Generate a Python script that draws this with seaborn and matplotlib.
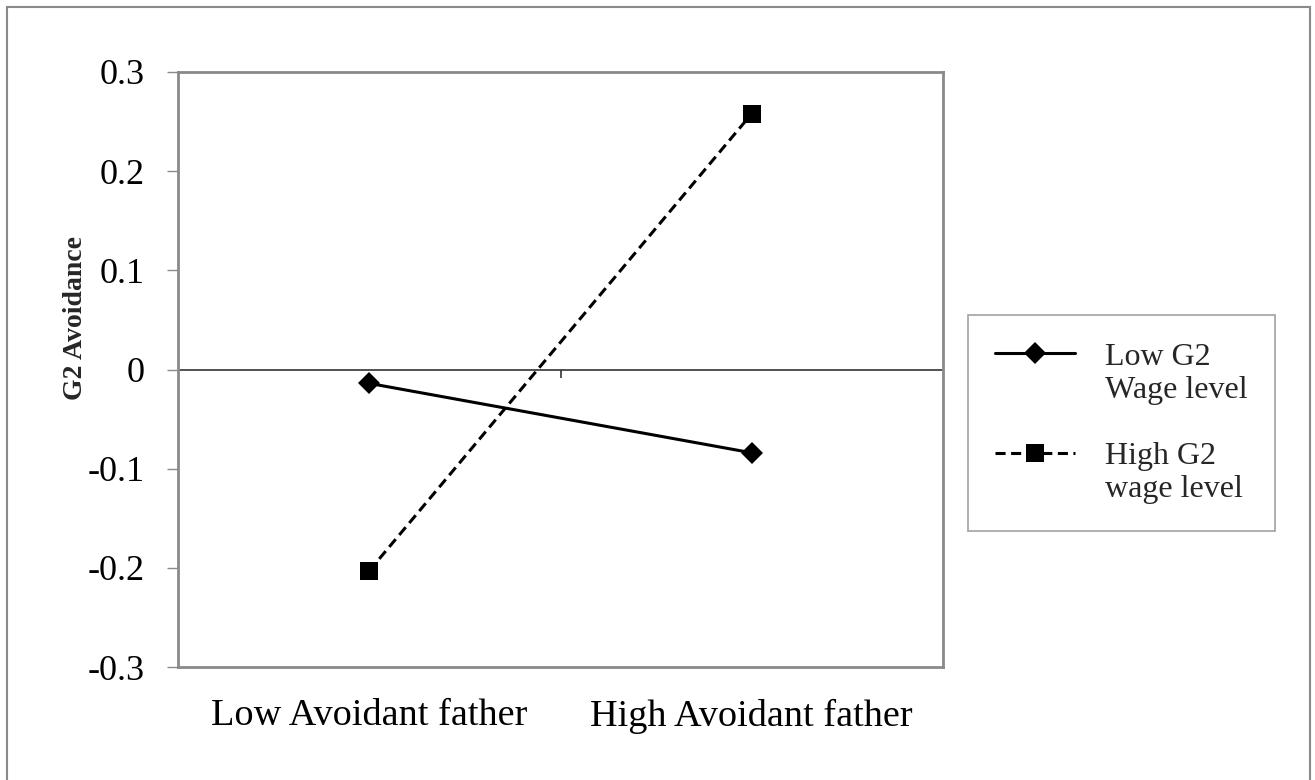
import matplotlib
matplotlib.use('Agg')
import matplotlib.pyplot as plt
from matplotlib.lines import Line2D
from matplotlib.patches import Rectangle
import seaborn as sns
import pandas as pd

# ----------------------
# DATA
# ----------------------
FATHER = ['Low Avoidant father', 'High Avoidant father']
LOW_WAGE = [-0.014, -0.084]
HIGH_WAGE = [-0.203, 0.258]
SERIES = ['Low G2 Wage level', 'High G2 wage level']
LEGEND_LINES = [['Low G2', 'Wage level'], ['High G2', 'wage level']]
Y_TICKS = [-0.3, -0.2, -0.1, 0, 0.1, 0.2, 0.3]
Y_TICK_LABELS = ['-0.3', '-0.2', '-0.1', '0', '0.1', '0.2', '0.3']

GRAY = '#8a8a8a'

df = pd.DataFrame({
    'father': FATHER * 2,
    'avoid': LOW_WAGE + HIGH_WAGE,
    'wage': [SERIES[0]] * 2 + [SERIES[1]] * 2,
})

# ----------------------
# STYLE
# ----------------------
sns.set_theme(style='white')
plt.rcParams['font.family'] = ['Liberation Serif', 'DejaVu Serif']

fig = plt.figure(figsize=(13.15, 7.8), dpi=100)
ax = fig.add_axes([178 / 1315, 1 - 667 / 780, 765 / 1315, 595 / 780])

sns.lineplot(data=df, x='father', y='avoid', hue='wage', style='wage',
             palette=['black', 'black'],
             markers={SERIES[0]: 'D', SERIES[1]: 's'},
             dashes={SERIES[0]: '', SERIES[1]: (3.3, 1.8)},
             linewidth=2.2, markeredgewidth=0, sort=False, legend=False, ax=ax)
for line, ms in zip(ax.lines, [11.5, 13.5]):
    line.set_markersize(ms)
low_line, high_line = ax.lines[0], ax.lines[1]

# zero line with its small centre tick
ax.axhline(0, color='#333333', lw=1.2, zorder=1)
ax.vlines(0.5, -0.009, 0, color='#333333', lw=1.2, zorder=1)

ax.set_xlim(-0.5, 1.5)
ax.set_ylim(-0.3, 0.3)
ax.set_yticks(Y_TICKS)
ax.set_yticklabels(Y_TICK_LABELS)
ax.set_xlabel('')
ax.set_ylabel('G2 Avoidance', fontsize=20, fontweight='bold')
ax.yaxis.set_label_coords(-0.118, 0.587)

ax.tick_params(axis='y', which='both', left=True, direction='out', length=8,
               width=1, color=GRAY, pad=16, labelsize=26, labelcolor='black')
ax.tick_params(axis='x', length=0, pad=23, labelsize=27.5, labelcolor='black')

for sp in ax.spines.values():
    sp.set_color(GRAY)
    sp.set_linewidth(2)
    sp.set_visible(True)

# legend: handle sits on the first line of each label
blank = Line2D([], [], linestyle='none')
handles = [low_line, blank, blank, high_line, blank]
labels = [LEGEND_LINES[0][0], LEGEND_LINES[0][1], '',
          LEGEND_LINES[1][0], LEGEND_LINES[1][1]]
leg = fig.legend(handles, labels, loc='upper left',
                 bbox_to_anchor=(968 / 1315, 1 - 315 / 780),
                 fontsize=23, frameon=True, fancybox=False, edgecolor=GRAY,
                 handlelength=2.5, handletextpad=0.95, borderpad=0.85,
                 labelspacing=0.12, borderaxespad=0)
leg.get_frame().set_linewidth(1.2)

# outer border around the figure
fig.add_artist(Rectangle((7 / 1315, -0.05), 1303 / 1315, 1.05 - 7 / 780,
                         transform=fig.transFigure, fill=False,
                         edgecolor=GRAY, lw=1.5))

fig.savefig('out.png', dpi=100, facecolor='white')
